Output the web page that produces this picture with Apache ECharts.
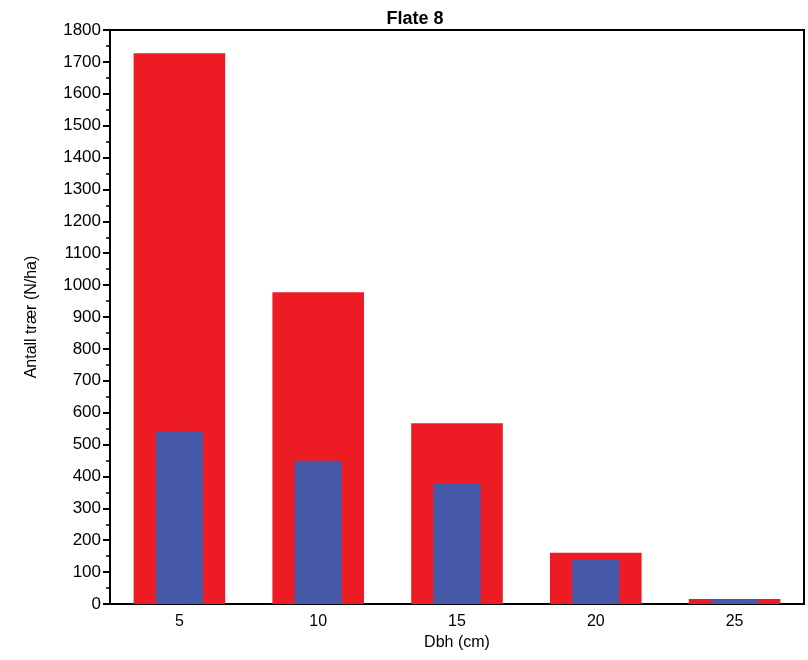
<!DOCTYPE html>
<html><head><meta charset="utf-8">
<script src="https://cdn.jsdelivr.net/npm/echarts@6/dist/echarts.min.js"></script>
<style>html,body{margin:0;padding:0;background:#fff}#c{width:808px;height:660px}</style>
</head><body><div id="c"></div>
<script>
const categories = ['5', '10', '15', '20', '25'];
const redValues = [1727, 978, 567, 161, 16];
const blueValues = [542, 449, 379, 141, 14];
const yTicks = {min: 0, max: 1800, interval: 100};

const chart = echarts.init(document.getElementById('c'));
const font = 'Liberation Sans, Arial, sans-serif';
chart.setOption({
  animation: false,
  title: {text: 'Flate 8', left: 410, top: 5, textAlign: 'center',
    textStyle: {fontFamily: font, fontWeight: 'bold', fontSize: 18, color: '#000'}},
  grid: {left: 110, right: 4, top: 30, bottom: 56, show: true, borderColor: '#000', borderWidth: 2, backgroundColor: 'transparent'},
  xAxis: [{type: 'category', data: categories,
    name: 'Dbh (cm)', nameLocation: 'middle', nameGap: 31,
    nameTextStyle: {fontFamily: font, fontSize: 16, color: '#000'},
    axisLine: {lineStyle: {color: '#000', width: 2}},
    axisTick: {show: false},
    axisLabel: {fontFamily: font, fontSize: 16, color: '#000', margin: 10}},
    {type: 'category', data: categories, show: false, position: 'bottom'}],
  yAxis: {type: 'value', min: yTicks.min, max: yTicks.max, interval: yTicks.interval,
    name: 'Antall trær (N/ha)', nameLocation: 'middle', nameGap: 70,
    nameTextStyle: {fontFamily: font, fontSize: 16, color: '#000'},
    axisLine: {show: true, lineStyle: {color: '#000', width: 2}},
    axisTick: {show: true, length: 7, lineStyle: {color: '#000', width: 2}},
    minorTick: {show: true, splitNumber: 2, length: 4, lineStyle: {color: '#000', width: 1.5}},
    splitLine: {show: false},
    axisLabel: {fontFamily: font, fontSize: 17, color: '#000', margin: 9, formatter: v => String(v)}},
  series: [
    {type: 'bar', xAxisIndex: 0, data: redValues, barWidth: '66%',
      itemStyle: {color: '#ED1C24'}},
    {type: 'bar', xAxisIndex: 1, data: blueValues, barWidth: '34%',
      itemStyle: {color: '#4559A8'}}
  ]
});
</script></body></html>
